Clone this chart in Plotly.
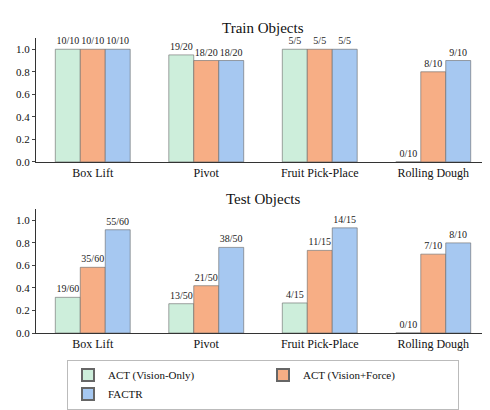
import plotly.graph_objects as go
from plotly.subplots import make_subplots

tasks = ["Box Lift", "Pivot", "Fruit Pick-Place", "Rolling Dough"]
series = ["ACT (Vision-Only)", "ACT (Vision+Force)", "FACTR"]
colors = ["#cdeedb", "#f7ae85", "#a6c8f1"]
train_num = [[10, 19, 5, 0], [10, 18, 5, 8], [10, 18, 5, 9]]
train_den = [10, 20, 5, 10]
test_num = [[19, 13, 4, 0], [35, 21, 11, 7], [55, 38, 14, 8]]
test_den = [60, 50, 15, 10]

fig = make_subplots(rows=2, cols=1, subplot_titles=["Train Objects", "Test Objects"],
                    vertical_spacing=0.16)
for row, (nums, dens) in enumerate([(train_num, train_den), (test_num, test_den)], start=1):
    for i, s in enumerate(series):
        fig.add_trace(go.Bar(
            x=tasks, y=[n / d for n, d in zip(nums[i], dens)], name=s,
            marker=dict(color=colors[i], line=dict(color="#666", width=0.6)),
            text=[f"{n}/{d}" for n, d in zip(nums[i], dens)], textposition="outside",
            textfont=dict(size=10, color="#222"), cliponaxis=False,
            showlegend=(row == 1)), row=row, col=1)
    fig.update_yaxes(range=[0, 1.1], tickvals=[0, 0.2, 0.4, 0.6, 0.8, 1.0],
                     tickformat=".1f", showgrid=False, showline=True, linecolor="#333",
                     ticks="outside", ticklen=3, row=row, col=1)
    fig.update_xaxes(showline=True, linecolor="#333", mirror=False, row=row, col=1)

fig.update_layout(
    width=490, height=410, barmode="group", bargap=0.34, bargroupgap=0.0,
    font=dict(family="Liberation Serif, Times New Roman, serif", size=12, color="#111"),
    plot_bgcolor="white", paper_bgcolor="white",
    margin=dict(l=22, r=8, t=30, b=46),
    legend=dict(orientation="h", x=0.5, xanchor="center", y=-0.09, yanchor="top",
                bordercolor="#bbb", borderwidth=1, font=dict(size=11),
                entrywidth=150, itemsizing="constant"),
)
for a in fig.layout.annotations:
    a.font = dict(size=15, family="Liberation Serif, serif")
fig.update_yaxes(tickfont=dict(size=11))
fig.write_html("out.html")
